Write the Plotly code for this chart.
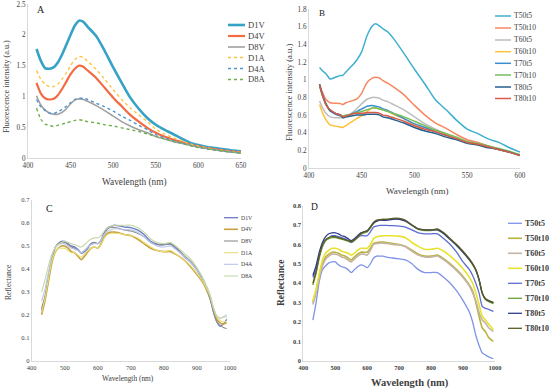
import plotly.graph_objects as go

W, H = 550, 390
FONT = "Liberation Serif"

# ---------------- Panel A: fluorescence (D series) ----------------
wl_a = [410, 415, 420, 425, 430, 435, 440, 445, 450, 455, 460, 465, 470, 480, 490, 500,
        510, 520, 530, 540, 550, 560, 570, 580, 590, 600, 610, 620, 630, 640, 650]
a_D1V = [1.77, 1.58, 1.46, 1.45, 1.47, 1.55, 1.68, 1.84, 2.0, 2.15, 2.23, 2.21, 2.13, 1.98, 1.74, 1.47,
         1.22, 0.98, 0.80, 0.65, 0.54, 0.46, 0.39, 0.32, 0.25, 0.21, 0.18, 0.16, 0.14, 0.12, 0.11]
a_D4V = [1.22, 1.05, 0.97, 0.95, 0.96, 1.02, 1.12, 1.24, 1.36, 1.45, 1.50, 1.48, 1.42, 1.30, 1.14, 0.98,
         0.84, 0.70, 0.59, 0.49, 0.41, 0.35, 0.30, 0.26, 0.22, 0.19, 0.16, 0.14, 0.12, 0.105, 0.09]
a_D8V = [1.01, 0.86, 0.78, 0.73, 0.71, 0.71, 0.74, 0.80, 0.88, 0.94, 0.96, 0.95, 0.92, 0.85, 0.77, 0.68,
         0.59, 0.52, 0.46, 0.41, 0.35, 0.31, 0.27, 0.24, 0.21, 0.18, 0.155, 0.13, 0.11, 0.095, 0.08]
a_D1A = [1.42, 1.28, 1.20, 1.16, 1.16, 1.20, 1.28, 1.38, 1.50, 1.60, 1.65, 1.63, 1.57, 1.44, 1.28, 1.11,
         0.95, 0.81, 0.70, 0.59, 0.47, 0.39, 0.33, 0.28, 0.23, 0.19, 0.165, 0.14, 0.12, 0.105, 0.09]
a_D4A = [0.95, 0.83, 0.77, 0.73, 0.72, 0.75, 0.79, 0.84, 0.90, 0.95, 0.97, 0.97, 0.95, 0.89, 0.83, 0.76,
         0.68, 0.61, 0.53, 0.46, 0.38, 0.33, 0.28, 0.24, 0.21, 0.17, 0.15, 0.13, 0.11, 0.095, 0.08]
a_D8A = [0.81, 0.63, 0.55, 0.53, 0.51, 0.53, 0.55, 0.57, 0.59, 0.61, 0.62, 0.61, 0.59, 0.57, 0.54, 0.52,
         0.49, 0.46, 0.43, 0.39, 0.35, 0.31, 0.27, 0.24, 0.20, 0.17, 0.15, 0.13, 0.11, 0.095, 0.08]
names_a = ["D1V", "D4V", "D8V", "D1A", "D4A", "D8A"]

# ---------------- Panel B: fluorescence (T series) ----------------
wl_b = [410, 413, 416, 420, 425, 430, 432, 435, 440, 445, 450, 455, 460, 463, 467, 470, 475, 480,
        490, 500, 510, 520, 530, 540, 550, 560, 570, 580, 590, 600]
b_T50t5 = [1.14, 1.10, 1.07, 1.01, 1.03, 1.05, 1.05, 1.09, 1.15, 1.22, 1.32, 1.50, 1.61, 1.635, 1.61, 1.58, 1.54, 1.47,
           1.30, 1.12, 0.95, 0.77, 0.66, 0.54, 0.44, 0.39, 0.33, 0.29, 0.23, 0.18]
b_T50t10 = [0.95, 0.85, 0.78, 0.74, 0.735, 0.73, 0.72, 0.74, 0.76, 0.78, 0.85, 0.97, 1.02, 1.03, 1.02, 0.99, 0.96, 0.92,
            0.83, 0.71, 0.60, 0.51, 0.45, 0.38, 0.32, 0.29, 0.25, 0.21, 0.18, 0.15]
b_T60t5 = [0.76, 0.68, 0.62, 0.58, 0.57, 0.57, 0.57, 0.58, 0.62, 0.67, 0.73, 0.78, 0.80, 0.80, 0.79, 0.77, 0.75, 0.72,
           0.66, 0.58, 0.50, 0.44, 0.39, 0.34, 0.29, 0.27, 0.24, 0.21, 0.18, 0.15]
b_T60t10 = [0.72, 0.62, 0.55, 0.49, 0.475, 0.465, 0.46, 0.48, 0.52, 0.56, 0.59, 0.64, 0.68, 0.68, 0.67, 0.66, 0.64, 0.61,
            0.56, 0.50, 0.46, 0.42, 0.38, 0.34, 0.29, 0.27, 0.24, 0.21, 0.18, 0.15]
b_T70t5 = [0.94, 0.82, 0.73, 0.65, 0.61, 0.59, 0.58, 0.59, 0.61, 0.64, 0.67, 0.70, 0.71, 0.70, 0.69, 0.67, 0.65, 0.62,
           0.56, 0.50, 0.46, 0.41, 0.37, 0.33, 0.29, 0.27, 0.24, 0.21, 0.18, 0.145]
b_T70t10 = [0.93, 0.81, 0.72, 0.66, 0.62, 0.60, 0.59, 0.60, 0.61, 0.63, 0.64, 0.66, 0.68, 0.68, 0.67, 0.66, 0.64, 0.62,
            0.58, 0.53, 0.48, 0.43, 0.39, 0.35, 0.30, 0.28, 0.25, 0.22, 0.19, 0.15]
b_T80t5 = [0.95, 0.82, 0.73, 0.65, 0.62, 0.60, 0.57, 0.58, 0.59, 0.60, 0.60, 0.61, 0.61, 0.61, 0.60, 0.58, 0.57, 0.55,
           0.51, 0.46, 0.42, 0.39, 0.35, 0.32, 0.28, 0.26, 0.23, 0.21, 0.18, 0.14]
b_T80t10 = [0.94, 0.82, 0.72, 0.66, 0.62, 0.60, 0.58, 0.59, 0.61, 0.62, 0.62, 0.63, 0.63, 0.63, 0.62, 0.60, 0.59, 0.57,
            0.53, 0.48, 0.44, 0.41, 0.37, 0.33, 0.29, 0.27, 0.24, 0.21, 0.18, 0.14]
names_b = ["T50t5", "T50t10", "T60t5", "T60t10", "T70t5", "T70t10", "T80t5", "T80t10"]

# ---------------- Panel C: reflectance (D series) ----------------
wl_c = [430, 440, 450, 460, 470, 480, 490, 500, 510, 520, 530, 540, 550, 560, 570, 580, 590, 600, 610, 620,
        630, 640, 650, 660, 680, 700, 720, 740, 760, 780, 800, 820, 840, 860, 880, 900, 920, 940, 950, 960,
        970, 980, 990]
c_D1V = [0.22, 0.27, 0.35, 0.43, 0.49, 0.51, 0.52, 0.52, 0.51, 0.50, 0.495, 0.485, 0.468, 0.475, 0.49, 0.51, 0.515,
         0.51, 0.525, 0.56, 0.58, 0.585, 0.59, 0.588, 0.582, 0.58, 0.57, 0.55, 0.52, 0.508, 0.505, 0.508, 0.485,
         0.455, 0.43, 0.395, 0.345, 0.27, 0.215, 0.17, 0.15, 0.16, 0.18]
c_D4V = [0.20, 0.26, 0.34, 0.42, 0.47, 0.49, 0.50, 0.50, 0.49, 0.475, 0.47, 0.455, 0.44, 0.455, 0.475, 0.49, 0.495,
         0.49, 0.51, 0.54, 0.555, 0.56, 0.56, 0.558, 0.55, 0.545, 0.53, 0.51, 0.49, 0.48, 0.475, 0.475, 0.46,
         0.44, 0.41, 0.375, 0.335, 0.27, 0.22, 0.18, 0.165, 0.16, 0.165]
c_D8V = [0.23, 0.28, 0.36, 0.44, 0.49, 0.51, 0.515, 0.515, 0.505, 0.495, 0.49, 0.48, 0.47, 0.48, 0.495, 0.51, 0.515,
         0.51, 0.525, 0.555, 0.575, 0.58, 0.58, 0.578, 0.57, 0.565, 0.555, 0.54, 0.515, 0.505, 0.505, 0.51, 0.49,
         0.46, 0.435, 0.40, 0.35, 0.27, 0.21, 0.17, 0.155, 0.145, 0.14]
c_D1A = [0.21, 0.27, 0.35, 0.43, 0.47, 0.49, 0.49, 0.49, 0.48, 0.47, 0.47, 0.46, 0.45, 0.465, 0.48, 0.49, 0.495,
         0.49, 0.505, 0.535, 0.55, 0.555, 0.555, 0.555, 0.55, 0.545, 0.535, 0.515, 0.495, 0.48, 0.475, 0.48, 0.46,
         0.44, 0.415, 0.38, 0.34, 0.28, 0.23, 0.19, 0.175, 0.17, 0.17]
c_D4A = [0.26, 0.31, 0.38, 0.45, 0.49, 0.505, 0.51, 0.51, 0.50, 0.49, 0.485, 0.48, 0.47, 0.48, 0.495, 0.505, 0.51,
         0.51, 0.525, 0.55, 0.565, 0.57, 0.575, 0.575, 0.57, 0.57, 0.56, 0.54, 0.515, 0.50, 0.495, 0.50, 0.48,
         0.455, 0.43, 0.395, 0.35, 0.285, 0.23, 0.195, 0.185, 0.19, 0.20]
c_D8A = [0.30, 0.35, 0.41, 0.46, 0.49, 0.505, 0.515, 0.52, 0.515, 0.51, 0.505, 0.50, 0.495, 0.505, 0.52, 0.53, 0.535,
         0.535, 0.545, 0.565, 0.58, 0.585, 0.59, 0.59, 0.59, 0.59, 0.58, 0.56, 0.53, 0.515, 0.51, 0.515, 0.495,
         0.47, 0.445, 0.405, 0.355, 0.285, 0.23, 0.195, 0.185, 0.19, 0.19]
names_c = ["D1V", "D4V", "D8V", "D1A", "D4A", "D8A"]

# ---------------- Panel D: reflectance (T series) ----------------
wl_d = [430, 440, 450, 460, 470, 480, 490, 500, 510, 520, 530, 540, 550, 560, 570, 580, 590, 600, 610, 620,
        630, 640, 650, 660, 680, 700, 720, 740, 760, 780, 800, 820, 840, 860, 880, 900, 920, 930, 940, 950,
        960, 970, 980, 995]
d_T50t5 = [0.21, 0.30, 0.41, 0.47, 0.49, 0.505, 0.51, 0.51, 0.495, 0.485, 0.48, 0.47, 0.455, 0.47, 0.485, 0.495,
           0.49, 0.48, 0.50, 0.53, 0.54, 0.54, 0.54, 0.535, 0.53, 0.525, 0.52, 0.50, 0.47, 0.455, 0.455, 0.455,
           0.43, 0.40, 0.36, 0.31, 0.25, 0.20, 0.13, 0.08, 0.04, 0.03, 0.02, 0.01]
d_T50t10 = [0.30, 0.36, 0.44, 0.50, 0.535, 0.55, 0.56, 0.56, 0.555, 0.545, 0.54, 0.53, 0.52, 0.535, 0.55, 0.56,
            0.56, 0.56, 0.58, 0.605, 0.61, 0.612, 0.612, 0.61, 0.605, 0.60, 0.59, 0.57, 0.55, 0.54, 0.54, 0.545,
            0.525, 0.50, 0.47, 0.435, 0.39, 0.36, 0.30, 0.23, 0.17, 0.15, 0.12, 0.10]
d_T60t5 = [0.29, 0.35, 0.43, 0.49, 0.525, 0.54, 0.55, 0.55, 0.545, 0.535, 0.53, 0.52, 0.51, 0.525, 0.54, 0.55,
           0.55, 0.545, 0.57, 0.60, 0.605, 0.607, 0.607, 0.605, 0.60, 0.597, 0.588, 0.565, 0.545, 0.535, 0.535,
           0.54, 0.52, 0.495, 0.465, 0.43, 0.385, 0.35, 0.31, 0.25, 0.21, 0.195, 0.17, 0.15]
d_T60t10 = [0.31, 0.37, 0.45, 0.52, 0.555, 0.57, 0.58, 0.58, 0.575, 0.565, 0.56, 0.555, 0.545, 0.555, 0.57, 0.58,
            0.58, 0.58, 0.60, 0.63, 0.64, 0.643, 0.645, 0.645, 0.645, 0.643, 0.635, 0.61, 0.59, 0.575, 0.575, 0.58,
            0.565, 0.54, 0.51, 0.475, 0.43, 0.40, 0.35, 0.29, 0.23, 0.21, 0.19, 0.16]
d_T70t5 = [0.43, 0.47, 0.54, 0.59, 0.62, 0.635, 0.645, 0.645, 0.64, 0.635, 0.63, 0.62, 0.61, 0.62, 0.635, 0.645,
           0.645, 0.645, 0.665, 0.69, 0.695, 0.698, 0.698, 0.698, 0.697, 0.695, 0.69, 0.675, 0.66, 0.655, 0.655,
           0.655, 0.63, 0.60, 0.56, 0.51, 0.47, 0.44, 0.40, 0.35, 0.28, 0.27, 0.265, 0.255]
d_T70t10 = [0.39, 0.45, 0.53, 0.59, 0.62, 0.63, 0.635, 0.635, 0.632, 0.627, 0.622, 0.617, 0.612, 0.622, 0.637, 0.652,
            0.66, 0.665, 0.685, 0.71, 0.72, 0.725, 0.727, 0.727, 0.732, 0.732, 0.722, 0.698, 0.678, 0.672, 0.672,
            0.677, 0.655, 0.625, 0.595, 0.56, 0.52, 0.495, 0.465, 0.415, 0.345, 0.315, 0.305, 0.295]
d_T80t5 = [0.44, 0.49, 0.56, 0.61, 0.64, 0.655, 0.66, 0.66, 0.655, 0.645, 0.64, 0.63, 0.62, 0.63, 0.645, 0.66,
           0.665, 0.67, 0.69, 0.71, 0.72, 0.725, 0.725, 0.725, 0.73, 0.73, 0.72, 0.70, 0.68, 0.675, 0.675, 0.675,
           0.655, 0.625, 0.595, 0.56, 0.52, 0.50, 0.47, 0.42, 0.35, 0.32, 0.31, 0.30]
d_T80t10 = [0.40, 0.46, 0.54, 0.60, 0.625, 0.635, 0.64, 0.64, 0.635, 0.63, 0.625, 0.62, 0.615, 0.625, 0.64, 0.655,
            0.665, 0.67, 0.69, 0.715, 0.725, 0.728, 0.73, 0.73, 0.735, 0.735, 0.725, 0.70, 0.68, 0.675, 0.675, 0.68,
            0.66, 0.63, 0.60, 0.565, 0.525, 0.50, 0.47, 0.42, 0.35, 0.32, 0.31, 0.30]
names_d = ["T50t5", "T50t10", "T60t5", "T60t10", "T70t5", "T70t10", "T80t5", "T80t10"]

# ---------------- styles ----------------
sty_a = [("#35A2C6", 2.6, "solid"), ("#F26B43", 2.2, "solid"), ("#A0A0A0", 1.6, "solid"),
         ("#FFC23A", 1.4, "dot"), ("#4F95D0", 1.4, "dot"), ("#6DB04A", 1.4, "dot")]
sty_b = [("#3FAFD0", 1.5), ("#F7875F", 1.5), ("#BDBDBD", 1.5), ("#FFC23A", 1.5),
         ("#3B8ED0", 1.5), ("#76BE5C", 1.5), ("#25618E", 1.5), ("#D65B48", 1.5)]
sty_c = [("#6A7CC8", 1.3), ("#C9A03E", 1.6), ("#8E8E8E", 1.1), ("#E6DE72", 1.1),
         ("#B9C5EC", 1.1), ("#C5D9A6", 1.1)]
sty_d = [("#7F93E6", 1.3), ("#B9B23E", 1.6), ("#C4B4A4", 1.6), ("#E8E22E", 1.6),
         ("#5C6DD2", 1.3), ("#6E9E3A", 1.3), ("#2E3A8C", 1.3), ("#5C5A22", 1.3)]

fig = go.Figure()

def add(xs, ys, name, color, width, dash, xa, ya):
    fig.add_trace(go.Scatter(x=xs, y=ys, name=name, mode="lines", showlegend=False,
                             line=dict(color=color, width=width, dash=dash, shape="spline", smoothing=0.6),
                             xaxis=xa, yaxis=ya))

for ys, nm, (c, w, d) in zip([a_D1V, a_D4V, a_D8V, a_D1A, a_D4A, a_D8A], names_a, sty_a):
    add(wl_a, ys, nm, c, w, d, "x", "y")
for ys, nm, (c, w) in zip([b_T50t5, b_T50t10, b_T60t5, b_T60t10, b_T70t5, b_T70t10, b_T80t5, b_T80t10], names_b, sty_b):
    add(wl_b, ys, nm, c, w, "solid", "x2", "y2")
for ys, nm, (c, w) in zip([c_D1V, c_D4V, c_D8V, c_D1A, c_D4A, c_D8A], names_c, sty_c):
    add(wl_c, ys, nm, c, w, "solid", "x3", "y3")
for ys, nm, (c, w) in zip([d_T50t5, d_T50t10, d_T60t5, d_T60t10, d_T70t5, d_T70t10, d_T80t5, d_T80t10], names_d, sty_d):
    add(wl_d, ys, nm, c, w, "solid", "x4", "y4")

def px(x):
    return x / W

def py(y):
    return 1 - y / H

def axis(dom, rng, dtick, size, bold=False, anchor=None):
    return dict(domain=dom, range=rng, dtick=dtick, showgrid=False, zeroline=False,
                showline=True, linecolor="#D9D9D9", linewidth=1, ticks="",
                tickfont=dict(family=FONT, size=size, color="#404040",
                              weight="bold" if bold else "normal"),
                anchor=anchor, fixedrange=True, automargin=False)

layout = dict(
    width=W, height=H, margin=dict(l=0, r=0, t=0, b=0, pad=0),
    paper_bgcolor="white", plot_bgcolor="white", showlegend=False, hovermode=False,
    font=dict(family=FONT, color="#404040"),
    xaxis=axis([px(28), px(241)], [400, 650], 50, 7.2, anchor="y"),
    yaxis=axis([py(158), py(4)], [0, 2.5], 0.5, 7.2, anchor="x"),
    xaxis2=axis([px(309), px(520)], [400, 600], 50, 7.2, anchor="y2"),
    yaxis2=axis([py(168), py(9.3)], [0, 1.8], 0.2, 7.2, anchor="x2"),
    xaxis3=axis([px(31.7), px(230)], [400, 1000], 100, 6.5, anchor="y3"),
    yaxis3=axis([py(360.7), py(200)], [0, 0.7], 0.1, 6.5, anchor="x3"),
    xaxis4=axis([px(303.3), px(495)], [400, 1000], 100, 6.5, bold=True, anchor="y4"),
    yaxis4=axis([py(360.7), py(205.7)], [0, 0.8], 0.1, 6.5, bold=True, anchor="x4"),
)
fig.update_layout(**layout)

ann = []
shapes = []

def text(x, y, s, size, bold=False, angle=0, xanchor="center", color="#404040"):
    ann.append(dict(x=px(x), y=py(y), xref="paper", yref="paper", text=s, showarrow=False,
                    textangle=angle, xanchor=xanchor, yanchor="middle", borderpad=0,
                    font=dict(family=FONT, size=size, color=color, weight="bold" if bold else "normal")))

# panel letters
text(41, 9, "A", 10, color="#222222")
text(322, 13, "B", 9, color="#222222")
text(49, 208, "C", 10, color="#222222")
text(314, 207, "D", 9.5, color="#222222")

# axis titles
text(6, 87, "Fluorescence intensity (a.u.)", 8.2, angle=-90)
text(134, 182, "Wavelength (nm)", 9.3)
text(289, 92, "Fluorescence intensity (a.u.)", 8.6, angle=-90)
text(417, 191, "Wavelength (nm)", 9)
text(8, 282, "Reflectance", 7.5, angle=-90)
text(128, 378, "Wavelength (nm)", 7.4)
text(281, 283, "Reflectance", 9.4, bold=True, angle=-90)
text(410, 383, "Wavelength (nm)", 10.5, bold=True)

# legends (keys + labels)
def legend(names, styles, x0, x1, xt, ys, size, bold=False, dashes=None):
    for i, (nm, st, y) in enumerate(zip(names, styles, ys)):
        dash = dashes[i] if dashes else "solid"
        shapes.append(dict(type="line", xref="paper", yref="paper", x0=px(x0), x1=px(x1),
                           y0=py(y), y1=py(y), line=dict(color=st[0], width=st[1], dash=dash)))
        text(xt, y, nm, size, bold=bold, xanchor="left")

legend(names_a, [(s[0], s[1]) for s in sty_a], 228, 245, 246.5, [25, 36, 47, 57.5, 68.5, 79.5], 8.6,
       dashes=[s[2] for s in sty_a])
legend(names_b, sty_b, 495, 511, 512.5, [16, 28, 40, 51.7, 63.3, 75, 87, 98.5], 7.6)
legend(names_c, sty_c, 224, 238, 240, [217.7, 229.3, 241, 252.7, 264.3, 276], 5.8)
legend(names_d, sty_d, 508, 522, 524, [223.3, 238.3, 253.3, 268.3, 283.3, 298.3, 313.3, 328.3], 8, bold=True)

fig.update_layout(annotations=ann, shapes=shapes)
fig.write_html("out.html", config={"displayModeBar": False, "staticPlot": True},
               post_script="document.body.style.margin='0';document.body.style.overflow='hidden';")
